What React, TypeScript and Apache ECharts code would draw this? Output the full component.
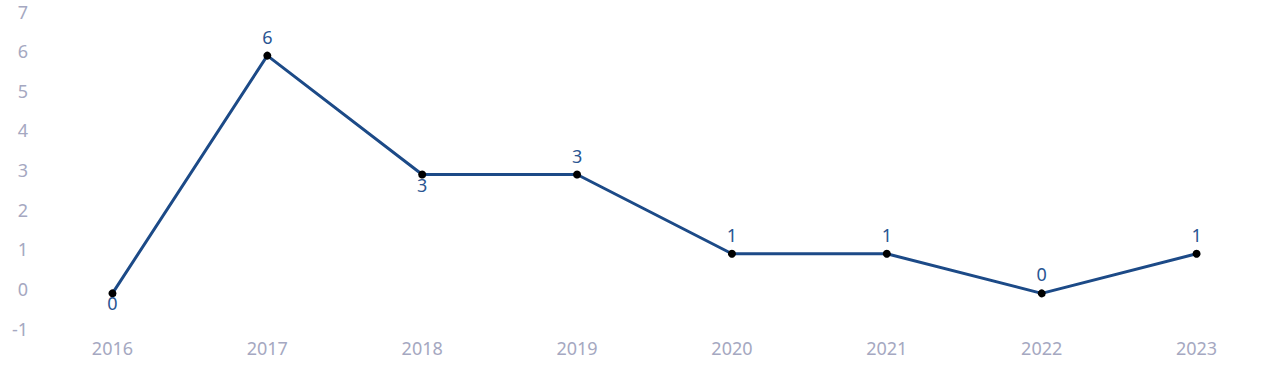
import React, { useEffect, useRef } from "react";
import * as echarts from "echarts";

const years = ["2016", "2017", "2018", "2019", "2020", "2021", "2022", "2023"];
const counts = [0, 6, 3, 3, 1, 1, 0, 1];
const labelBelow = [true, false, true, false, false, false, false, false];

const FONT = "'Noto Sans', sans-serif";

export default function App() {
  const ref = useRef<HTMLDivElement>(null);
  useEffect(() => {
    if (!ref.current) return;
    const chart = echarts.init(ref.current, undefined, { renderer: "svg" });
    chart.setOption({
      animation: false,
      grid: {
        left: 35,
        right: 6,
        top: 16,
        bottom: 49,
        containLabel: false,
        outerBoundsMode: "none",
      },
      xAxis: {
        type: "category",
        data: years,
        boundaryGap: true,
        axisLine: { show: false },
        axisTick: { show: false },
        splitLine: { show: false },
        axisLabel: { color: "#a5a8c1", fontSize: 18, fontFamily: FONT, margin: 6 },
      },
      yAxis: {
        type: "value",
        min: -1,
        max: 7,
        interval: 1,
        axisLine: { show: false },
        axisTick: { show: false },
        splitLine: { show: false },
        axisLabel: {
          margin: 7,
          formatter: "{a|{value}}",
          rich: {
            a: {
              color: "#a5a8c1",
              fontSize: 18,
              fontFamily: FONT,
              padding: [0, 0, 9, 0],
            },
          },
        },
      },
      series: [
        {
          type: "line",
          data: counts.map((v, i) => ({
            value: v,
            label: labelBelow[i]
              ? { position: "bottom", distance: -3 }
              : { position: "top", distance: 6 },
          })),
          symbol: "circle",
          symbolSize: 8,
          lineStyle: { color: "#1c4a87", width: 3 },
          itemStyle: { color: "#000000" },
          label: {
            show: true,
            color: "#2a5592",
            fontSize: 18,
            fontFamily: FONT,
          },
        },
      ],
    });
    return () => chart.dispose();
  }, []);
  return (
    <div
      ref={ref}
      style={{ position: "absolute", top: 0, left: 0, width: 1280, height: 382 }}
    />
  );
}
